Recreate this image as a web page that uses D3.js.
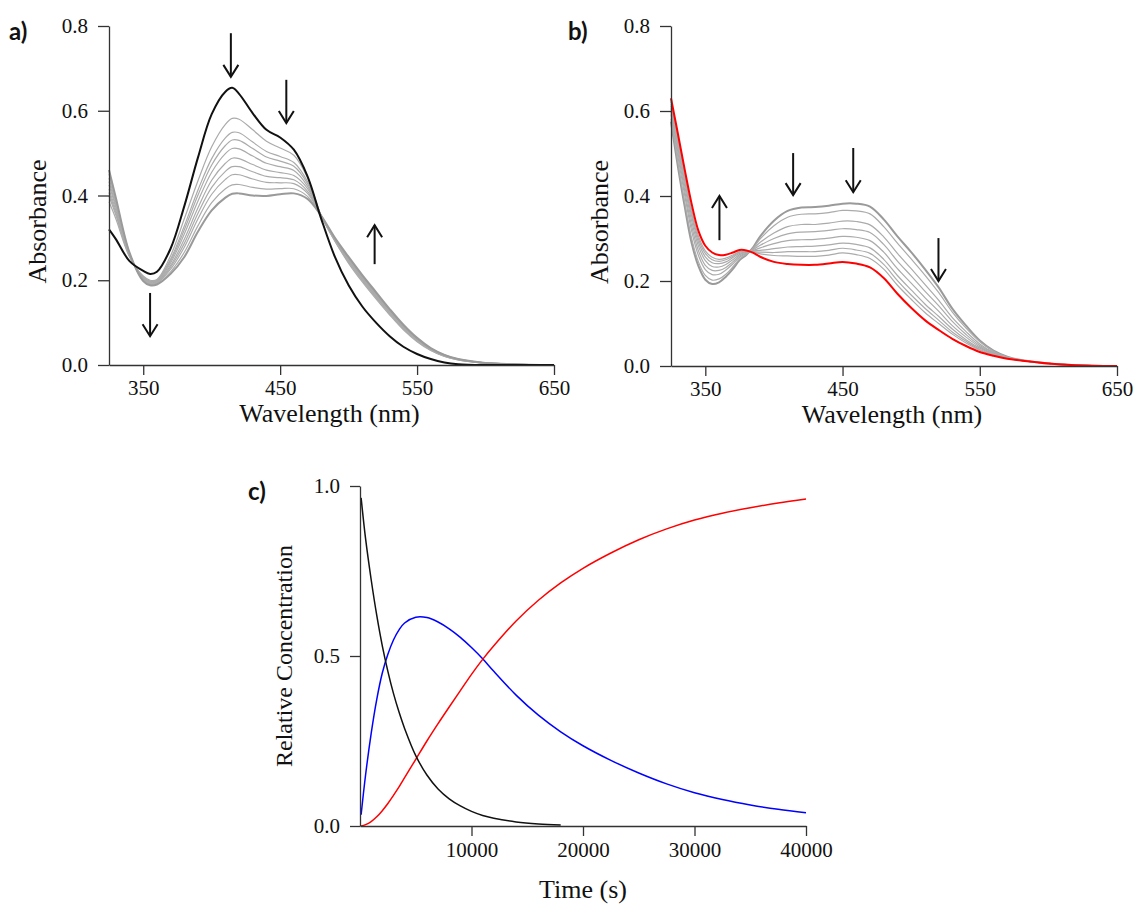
<!DOCTYPE html>
<html>
<head>
<meta charset="utf-8">
<script src="https://cdn.jsdelivr.net/npm/d3@7"></script>
<style>
  body { margin: 0; background: #fff; }
  svg { display: block; }
  svg text { font-family: "Liberation Serif", "Times New Roman", serif; }
  svg text.panel-label { font-family: Lato, "Open Sans", sans-serif; font-weight: 700; }
</style>
</head>
<body>
<svg id="fig" width="1135" height="904"></svg>
<script>
// ---------- Panel a: spectra recorded during the first step ----------
const wavelengthA = [325,330,340,350,355,360,370,380,390,400,410,415,420,430,440,450,460,470,480,490,500,510,520,530,540,550,560,570,580,600,620,650];

const absA_initial = [0.320,0.297,0.245,0.222,0.215,0.220,0.275,0.375,0.490,0.592,0.645,0.654,0.640,0.594,0.555,0.537,0.508,0.445,0.345,0.255,0.188,0.138,0.100,0.068,0.043,0.026,0.014,0.006,0.002,0.000,0.000,0.000];

const absA_scans = [
  [0.385,0.345,0.255,0.210,0.200,0.202,0.258,0.345,0.435,0.515,0.568,0.582,0.580,0.555,0.528,0.512,0.495,0.442,0.352,0.292,0.240,0.196,0.156,0.118,0.083,0.055,0.034,0.020,0.012,0.004,0.001,0.000],
  [0.399,0.354,0.257,0.208,0.198,0.200,0.250,0.328,0.413,0.487,0.536,0.549,0.548,0.526,0.504,0.492,0.478,0.433,0.352,0.293,0.243,0.199,0.159,0.121,0.085,0.057,0.035,0.021,0.012,0.004,0.001,0.000],
  [0.407,0.359,0.258,0.207,0.197,0.199,0.246,0.319,0.401,0.472,0.518,0.531,0.530,0.511,0.491,0.481,0.469,0.428,0.352,0.294,0.244,0.201,0.161,0.122,0.086,0.058,0.036,0.021,0.013,0.004,0.001,0.000],
  [0.415,0.365,0.259,0.205,0.195,0.197,0.241,0.309,0.387,0.455,0.499,0.511,0.510,0.493,0.476,0.468,0.459,0.422,0.352,0.295,0.246,0.202,0.162,0.124,0.088,0.059,0.036,0.022,0.013,0.004,0.001,0.000],
  [0.425,0.372,0.260,0.204,0.194,0.196,0.235,0.297,0.371,0.436,0.476,0.488,0.487,0.473,0.460,0.454,0.447,0.416,0.352,0.296,0.248,0.204,0.164,0.125,0.089,0.060,0.037,0.022,0.013,0.005,0.002,0.000],
  [0.433,0.377,0.261,0.202,0.192,0.194,0.231,0.287,0.358,0.419,0.457,0.468,0.468,0.456,0.445,0.442,0.437,0.410,0.352,0.297,0.250,0.206,0.166,0.127,0.091,0.061,0.038,0.023,0.013,0.005,0.002,0.000],
  [0.441,0.383,0.263,0.201,0.191,0.193,0.226,0.278,0.345,0.403,0.438,0.449,0.449,0.439,0.431,0.430,0.428,0.405,0.352,0.298,0.251,0.208,0.168,0.129,0.092,0.062,0.039,0.023,0.014,0.005,0.002,0.000],
  [0.451,0.389,0.264,0.199,0.189,0.191,0.220,0.266,0.329,0.383,0.416,0.425,0.426,0.419,0.415,0.416,0.416,0.398,0.352,0.299,0.253,0.210,0.170,0.130,0.094,0.063,0.039,0.024,0.014,0.005,0.002,0.000],
  [0.460,0.395,0.265,0.198,0.188,0.190,0.215,0.255,0.315,0.365,0.395,0.404,0.405,0.400,0.399,0.403,0.405,0.392,0.352,0.300,0.255,0.212,0.172,0.132,0.095,0.064,0.040,0.024,0.014,0.005,0.002,0.000]
];

// arrows: wavelength, absorbance at tail, absorbance at head
const arrowsA = [
  { wl: 414,   from: 0.783, to: 0.680 },
  { wl: 454.5, from: 0.673, to: 0.571 },
  { wl: 355,   from: 0.170, to: 0.068 },
  { wl: 519,   from: 0.238, to: 0.330 }
];

// ---------- Panel b: spectra recorded during the second step ----------
const wavelengthB = [325,330,335,340,345,350,355,360,365,370,375,380,385,390,400,410,420,430,440,450,460,470,480,490,500,510,520,530,540,550,560,570,580,600,620,650];

const absB_scans = [
  [0.575,0.470,0.375,0.290,0.235,0.203,0.193,0.197,0.210,0.228,0.249,0.262,0.280,0.305,0.342,0.365,0.373,0.374,0.377,0.382,0.382,0.375,0.345,0.305,0.268,0.228,0.185,0.135,0.095,0.060,0.036,0.022,0.014,0.006,0.002,0.000],
  [0.582,0.479,0.385,0.301,0.245,0.213,0.202,0.205,0.216,0.233,0.252,0.263,0.278,0.299,0.330,0.350,0.357,0.358,0.361,0.366,0.365,0.358,0.328,0.289,0.252,0.214,0.173,0.127,0.089,0.057,0.035,0.021,0.014,0.006,0.002,0.000],
  [0.592,0.493,0.401,0.318,0.260,0.227,0.215,0.216,0.226,0.240,0.256,0.265,0.276,0.291,0.313,0.328,0.333,0.333,0.336,0.341,0.340,0.332,0.304,0.265,0.229,0.192,0.155,0.114,0.081,0.052,0.032,0.021,0.014,0.006,0.002,0.000],
  [0.599,0.503,0.412,0.330,0.271,0.237,0.225,0.225,0.232,0.245,0.259,0.266,0.274,0.284,0.300,0.311,0.315,0.316,0.319,0.323,0.321,0.314,0.286,0.247,0.212,0.176,0.142,0.105,0.074,0.048,0.031,0.020,0.014,0.006,0.002,0.000],
  [0.606,0.513,0.424,0.342,0.282,0.248,0.234,0.233,0.239,0.250,0.262,0.268,0.272,0.278,0.288,0.295,0.297,0.298,0.301,0.305,0.303,0.295,0.268,0.229,0.195,0.161,0.129,0.095,0.068,0.045,0.029,0.019,0.013,0.006,0.002,0.000],
  [0.612,0.522,0.434,0.353,0.291,0.257,0.243,0.241,0.245,0.255,0.265,0.269,0.271,0.272,0.276,0.280,0.281,0.282,0.285,0.289,0.286,0.278,0.251,0.213,0.179,0.146,0.117,0.087,0.062,0.042,0.028,0.019,0.013,0.006,0.002,0.000],
  [0.617,0.529,0.442,0.361,0.299,0.265,0.250,0.246,0.250,0.258,0.268,0.270,0.269,0.268,0.267,0.269,0.269,0.269,0.272,0.277,0.273,0.265,0.239,0.201,0.167,0.136,0.108,0.080,0.058,0.039,0.027,0.018,0.013,0.006,0.002,0.000],
  [0.622,0.536,0.449,0.368,0.306,0.271,0.256,0.251,0.254,0.261,0.269,0.271,0.268,0.264,0.260,0.259,0.258,0.258,0.261,0.266,0.262,0.253,0.228,0.190,0.157,0.126,0.100,0.075,0.054,0.037,0.026,0.018,0.013,0.006,0.002,0.000]
];

const absB_final = [0.630,0.547,0.462,0.382,0.318,0.283,0.267,0.261,0.262,0.267,0.273,0.272,0.266,0.257,0.245,0.240,0.238,0.238,0.241,0.245,0.241,0.232,0.207,0.170,0.137,0.108,0.085,0.064,0.047,0.033,0.024,0.017,0.013,0.006,0.002,0.000];

const arrowsB = [
  { wl: 360.3, from: 0.296, to: 0.400 },
  { wl: 414,   from: 0.501, to: 0.402 },
  { wl: 457.8, from: 0.513, to: 0.409 },
  { wl: 519.9, from: 0.301, to: 0.200 }
];

// ---------- Panel c: concentration profiles ----------
const timeS = [100,500,1000,1500,2000,2500,3000,3500,4000,5000,6000,7000,8000,9000,10000,11000,12000,14000,16000,18000,20000,22500,25000,27500,30000,32500,35000,37500,40000];
const concStart = [0.965,0.845,0.725,0.620,0.530,0.455,0.390,0.335,0.287,0.207,0.150,0.109,0.080,0.059,0.043,0.031,0.023,0.012,0.006,0.003,null,null,null,null,null,null,null,null,null];
const concIntermediate = [0.033,0.150,0.272,0.372,0.450,0.505,0.547,0.577,0.597,0.614,0.613,0.600,0.580,0.555,0.525,0.492,0.455,0.385,0.326,0.277,0.236,0.193,0.156,0.124,0.098,0.078,0.062,0.049,0.039];
const concProduct = [0.000,0.004,0.013,0.027,0.045,0.066,0.090,0.115,0.142,0.196,0.250,0.301,0.350,0.398,0.446,0.490,0.530,0.603,0.664,0.715,0.758,0.803,0.842,0.874,0.900,0.920,0.936,0.950,0.962];

const spectraTicksX = [350, 450, 550, 650];
const spectraTicksY = [0.0, 0.2, 0.4, 0.6, 0.8];
const timeTicks = [10000, 20000, 30000, 40000];
const concTicks = [0.0, 0.5, 1.0];

// ---------- drawing ----------
const svg = d3.select("#fig");
const SERIF = '"Liberation Serif", "Times New Roman", serif';
const AXIS_COLOR = "#333";

function styleAxis(sel) {
  sel.attr("font-family", null).style("font-family", SERIF);
  sel.select(".domain").attr("stroke", AXIS_COLOR).attr("stroke-width", 1.3);
  sel.selectAll(".tick line").attr("stroke", AXIS_COLOR).attr("stroke-width", 1.3);
  sel.selectAll(".tick text")
    .style("font-family", SERIF).style("font-size", "21px").attr("fill", "#111");
}

function addText(g, txt, size) {
  return g.append("text").attr("text-anchor", "middle")
    .style("font-family", SERIF).style("font-size", size + "px")
    .attr("fill", "#111").text(txt);
}

function addLabel(x, y, txt) {
  svg.append("text").attr("class", "panel-label").attr("x", x).attr("y", y)
    .style("font-size", "24px").attr("fill", "#111").text(txt);
}

function drawArrow(g, x, y, a) {
  const x0 = x(a.wl), y0 = y(a.from), y1 = y(a.to);
  const dir = y1 > y0 ? 1 : -1;
  g.append("line").attr("x1", x0).attr("x2", x0).attr("y1", y0).attr("y2", y1)
    .attr("stroke", "#111").attr("stroke-width", 2);
  g.append("path")
    .attr("d", `M${x0 - 7.5},${y1 - dir * 12}L${x0},${y1}L${x0 + 7.5},${y1 - dir * 12}`)
    .attr("fill", "none").attr("stroke", "#111").attr("stroke-width", 2);
}

function spectrumPanel(opt) {
  const x = d3.scaleLinear().domain([325, 650]).range([opt.left, opt.right]);
  const y = d3.scaleLinear().domain([0, 0.8]).range([opt.bottom, opt.top]);
  const g = svg.append("g");

  const line = d3.line()
    .x((d, i) => x(opt.wavelength[i]))
    .y(d => y(d))
    .curve(d3.curveCatmullRom.alpha(0.5));

  opt.scans.forEach((s, i) => {
    const bold = i === opt.boldIndex;
    g.append("path").attr("d", line(s)).attr("fill", "none")
      .attr("stroke", bold ? "#9a9a9a" : "#ababab")
      .attr("stroke-width", bold ? 2 : 1.2);
  });
  g.append("path").attr("d", line(opt.highlight)).attr("fill", "none")
    .attr("stroke", opt.highlightColor).attr("stroke-width", 2);

  const ax = g.append("g").attr("transform", `translate(0,${opt.bottom})`)
    .call(d3.axisBottom(x).tickValues(spectraTicksX).tickSize(10).tickSizeOuter(0).tickPadding(5).tickFormat(d3.format("d")));
  styleAxis(ax);
  const ay = g.append("g").attr("transform", `translate(${opt.left},0)`)
    .call(d3.axisLeft(y).tickValues(spectraTicksY).tickSize(11).tickSizeOuter(0).tickPadding(10).tickFormat(d3.format(".1f")));
  styleAxis(ay);

  opt.arrows.forEach(a => drawArrow(g, x, y, a));

  addText(g, "Wavelength (nm)", 26)
    .attr("x", (opt.left + opt.right) / 2 - 2).attr("y", opt.bottom + 57);
  addText(g, "Absorbance", 26)
    .attr("transform", `translate(${opt.left - 63},${(opt.top + opt.bottom) / 2 + 26}) rotate(-90)`);
  addLabel(opt.labelX, 40, opt.label);
}

spectrumPanel({
  left: 109, right: 554, top: 26, bottom: 365,
  wavelength: wavelengthA, scans: absA_scans, boldIndex: absA_scans.length - 1,
  highlight: absA_initial, highlightColor: "#111",
  arrows: arrowsA, label: "a)", labelX: 9
});

spectrumPanel({
  left: 671, right: 1117, top: 26, bottom: 366,
  wavelength: wavelengthB, scans: absB_scans, boldIndex: 0,
  highlight: absB_final, highlightColor: "#ff0000",
  arrows: arrowsB, label: "b)", labelX: 568
});

// Panel c
(function () {
  const left = 360, right = 806, top = 486, bottom = 826;
  const x = d3.scaleLinear().domain([0, 40000]).range([left, right]);
  const y = d3.scaleLinear().domain([0, 1]).range([bottom, top]);
  const g = svg.append("g");

  const line = d3.line()
    .defined(d => d != null)
    .x((d, i) => x(timeS[i]))
    .y(d => y(d))
    .curve(d3.curveCatmullRom.alpha(0.5));

  const series = [
    { values: concIntermediate, color: "#0000ff" },
    { values: concProduct, color: "#ff0000" },
    { values: concStart, color: "#111" }
  ];
  series.forEach(s => {
    g.append("path").attr("d", line(s.values)).attr("fill", "none")
      .attr("stroke", s.color).attr("stroke-width", 1.5);
  });

  const ax = g.append("g").attr("transform", `translate(0,${bottom})`)
    .call(d3.axisBottom(x).tickValues(timeTicks).tickSize(10).tickSizeOuter(0).tickPadding(6).tickFormat(d3.format("d")));
  styleAxis(ax);
  const ay = g.append("g").attr("transform", `translate(${left},0)`)
    .call(d3.axisLeft(y).tickValues(concTicks).tickSize(10).tickSizeOuter(0).tickPadding(10).tickFormat(d3.format(".1f")));
  styleAxis(ay);

  addText(g, "Time (s)", 26).attr("x", (left + right) / 2).attr("y", bottom + 72);
  addText(g, "Relative Concentration", 24)
    .attr("transform", `translate(${left - 68},${(top + bottom) / 2}) rotate(-90)`);
  addLabel(248, 500, "c)");
})();
</script>
</body>
</html>
